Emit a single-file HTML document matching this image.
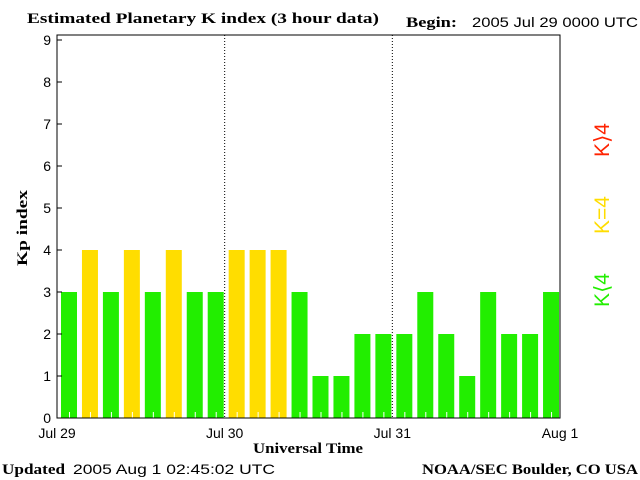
<!DOCTYPE html>
<html><head><meta charset="utf-8"><style>
body{margin:0;background:#fff;width:640px;height:480px;overflow:hidden}
svg{display:block}
.s{font-family:"Liberation Sans",sans-serif;font-size:14px}
.b{font-family:"Liberation Serif",serif;font-weight:bold;font-size:15px}
</style></head><body>
<svg width="640" height="480">
<text class="b" x="27" y="23" textLength="352" lengthAdjust="spacingAndGlyphs">Estimated Planetary K index (3 hour data)</text>
<text class="b" x="406" y="27" textLength="51" lengthAdjust="spacingAndGlyphs">Begin:</text>
<text class="s" x="472" y="27" textLength="166" lengthAdjust="spacingAndGlyphs">2005 Jul 29 0000 UTC</text>
<g id="plot"></g>
<text class="b" x="0" y="0" transform="translate(27,228) rotate(-90)" text-anchor="middle" textLength="76" lengthAdjust="spacingAndGlyphs">Kp index</text>
<text class="b" x="253" y="453" textLength="110" lengthAdjust="spacingAndGlyphs">Universal Time</text>
<text class="b" x="2" y="474" textLength="63" lengthAdjust="spacingAndGlyphs">Updated</text>
<text class="s" x="73" y="474" textLength="202" lengthAdjust="spacingAndGlyphs">2005 Aug  1 02:45:02 UTC</text>
<text class="b" x="422" y="474" textLength="216" lengthAdjust="spacingAndGlyphs">NOAA/SEC Boulder, CO USA</text>
<text class="s" transform="translate(609,290) rotate(-90)" text-anchor="middle" fill="#22ee00" style="font-size:21px">K⟨4</text>
<text class="s" transform="translate(609,215) rotate(-90)" text-anchor="middle" fill="#ffdd00" style="font-size:21px">K=4</text>
<text class="s" transform="translate(609,140) rotate(-90)" text-anchor="middle" fill="#ff2200" style="font-size:21px">K⟩4</text>
</svg>
<script>
const kpValues=[3,4,3,4,3,4,3,3,4,4,4,3,1,1,2,2,2,3,2,1,3,2,2,3];
const yTicks=[0,1,2,3,4,5,6,7,8,9];
const xLabels=["Jul 29","Jul 30","Jul 31","Aug 1"];
const X0=57,X1=560,Y0=418,Y9=40;
const y=v=>Y0-(Y0-Y9)*v/9;
const slotW=(X1-X0)/kpValues.length;
const x=i=>X0+i*slotW;
const g=document.getElementById('plot');
const NS='http://www.w3.org/2000/svg';
function mk(t,a){const e=document.createElementNS(NS,t);for(const k in a)e.setAttribute(k,a[k]);g.appendChild(e);return e;}
kpValues.forEach((v,i)=>{
  const r=mk('rect',{x:x(i)+4,y:y(v),width:16,height:Y0-y(v),fill:v<4?'#22ee00':(v==4?'#ffdd00':'#ff2200')});
  
  
  const t=mk('line',{x1:x(i)+12.5,x2:x(i)+12.5,y1:Y0-6,y2:Y0,stroke:'#fff'});
  
  
});
for(let d=1;d<xLabels.length-1;d++){
  const l=mk('line',{x1:x(d*8),x2:x(d*8),y1:35,y2:Y0,stroke:'#000','stroke-dasharray':'1,2'});
  
  
}
const box=mk('rect',{x:X0,y:35,width:X1-X0,height:Y0-35,fill:'none',stroke:'#000','stroke-width':1});


yTicks.forEach(v=>{
  const l=mk('line',{x1:X0,x2:X0+5,y1:y(v),y2:y(v),stroke:'#000'});
  
  
  const t=mk('text',{x:X0-6,y:y(v)+5,'text-anchor':'end',class:'s'});
  t.textContent=v;
  
  
});
xLabels.forEach((s,d)=>{
  const t=mk('text',{x:x(d*8),y:438,'text-anchor':'middle',class:'s'});
  t.textContent=s;
  
  
});
</script>
</body></html>
